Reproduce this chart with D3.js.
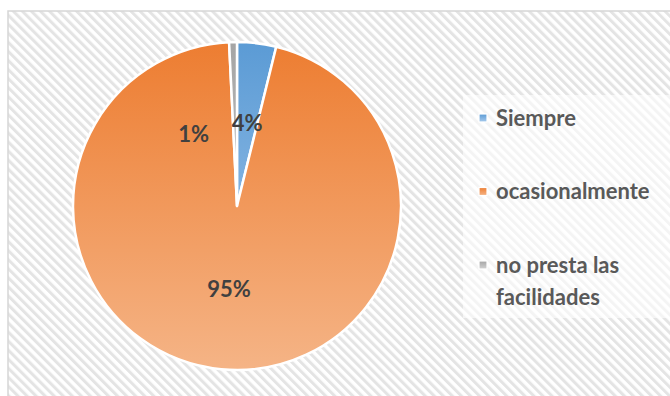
<!DOCTYPE html>
<html>
<head>
<meta charset="utf-8">
<script src="https://cdn.jsdelivr.net/npm/d3@7/dist/d3.min.js"></script>
<style>
  html, body { margin: 0; padding: 0; background: #fff; }
  svg { display: block; }
</style>
</head>
<body>
<svg id="chart" width="670" height="396"></svg>
<script>
// Survey answers (counts) and their series colours
const categories = ["Siempre", "ocasionalmente", "no presta las facilidades"];
const counts = [5, 124, 1];
const baseColors = ["#5B9BD5", "#ED7D31", "#A5A5A5"];
const lightColors = ["#A8CAEC", "#F5B486", "#D2D2D2"];
const legendLines = [["Siempre"], ["ocasionalmente"], ["no presta las", "facilidades"]];

const W = 670, H = 396;
const svg = d3.select("#chart");
const defs = svg.append("defs");

// Diagonal striped chart-area fill
const stripe = defs.append("pattern")
  .attr("id", "stripes")
  .attr("patternUnits", "userSpaceOnUse")
  .attr("width", 6.4).attr("height", 6.4)
  .attr("patternTransform", "rotate(-45)");
stripe.append("rect").attr("width", 6.4).attr("height", 6.4).attr("fill", "#ffffff");
stripe.append("rect").attr("width", 3.0).attr("height", 6.4).attr("fill", "#e4e4e4");

const plot = { x: 8, y: 11 };
svg.append("rect")
  .attr("x", plot.x).attr("y", plot.y)
  .attr("width", W + 20).attr("height", H + 20)
  .attr("fill", "url(#stripes)")
  .attr("stroke", "#d6d6d6").attr("stroke-width", 1.5);

// Pie geometry
const cx = 237, cy = 206, R = 164;

// Vertical gradients spanning the pie (in the pie group's own coordinates)
baseColors.forEach((c, i) => {
  const g = defs.append("linearGradient")
    .attr("id", "grad" + i)
    .attr("gradientUnits", "userSpaceOnUse")
    .attr("x1", 0).attr("x2", 0)
    .attr("y1", -R).attr("y2", R);
  g.append("stop").attr("offset", "0%").attr("stop-color", c);
  g.append("stop").attr("offset", "100%").attr("stop-color", lightColors[i]);
  const gl = defs.append("linearGradient")
    .attr("id", "lgrad" + i)
    .attr("x1", 0).attr("x2", 0).attr("y1", 0).attr("y2", 1);
  gl.append("stop").attr("offset", "0%").attr("stop-color", c);
  gl.append("stop").attr("offset", "100%").attr("stop-color", lightColors[i]);
});

const total = d3.sum(counts);
const pie = d3.pie().sort(null).value(d => d)(counts);
const arc = d3.arc().innerRadius(0).outerRadius(R);

const g = svg.append("g").attr("transform", `translate(${cx},${cy})`);
g.selectAll("path.slice")
  .data(pie)
  .join("path")
  .attr("class", "slice")
  .attr("d", arc)
  .attr("fill", (d, i) => `url(#grad${i})`)
  .attr("stroke", "#ffffff")
  .attr("stroke-width", 2.5)
  .attr("stroke-linejoin", "round");

// Percentage labels; the thin last slice's label is swung aside so it stays readable
const labelNudge = [0, 0, -0.52];
g.selectAll("text.pct")
  .data(pie)
  .join("text")
  .attr("class", "pct")
  .attr("transform", (d, i) => {
    const a = (d.startAngle + d.endAngle) / 2 + labelNudge[i];
    const r = R * 0.51;
    return `translate(${r * Math.sin(a)},${-r * Math.cos(a)})`;
  })
  .attr("text-anchor", "middle")
  .attr("dy", "0.36em")
  .attr("font-family", "Lato, 'Open Sans', sans-serif")
  .attr("font-weight", "bold")
  .attr("font-size", 22)
  .attr("fill", "#404040")
  .text(d => Math.round(d.value / total * 100) + "%");

// Legend panel
svg.append("rect")
  .attr("x", 463).attr("y", 95)
  .attr("width", 230).attr("height", 223)
  .attr("fill", "#ffffff").attr("fill-opacity", 0.6);

const legendY = d3.scalePoint().domain(categories).range([118, 265]);
const lg = svg.append("g").selectAll("g")
  .data(categories)
  .join("g")
  .attr("transform", d => `translate(479,${legendY(d)})`);

lg.append("rect")
  .attr("x", 0).attr("y", -4).attr("width", 8).attr("height", 8)
  .attr("fill", (d, i) => `url(#lgrad${i})`)
  .attr("stroke", "#ffffff").attr("stroke-width", 1.2);

lg.append("text")
  .attr("x", 17)
  .attr("y", 0)
  .attr("font-family", "Lato, 'Open Sans', sans-serif")
  .attr("font-weight", "bold")
  .attr("font-size", 22)
  .attr("fill", "#595959")
  .selectAll("tspan")
  .data((d, i) => legendLines[i])
  .join("tspan")
  .attr("x", 17)
  .attr("dy", (d, j) => j === 0 ? "0.36em" : "32px")
  .text(d => d);
</script>
</body>
</html>
